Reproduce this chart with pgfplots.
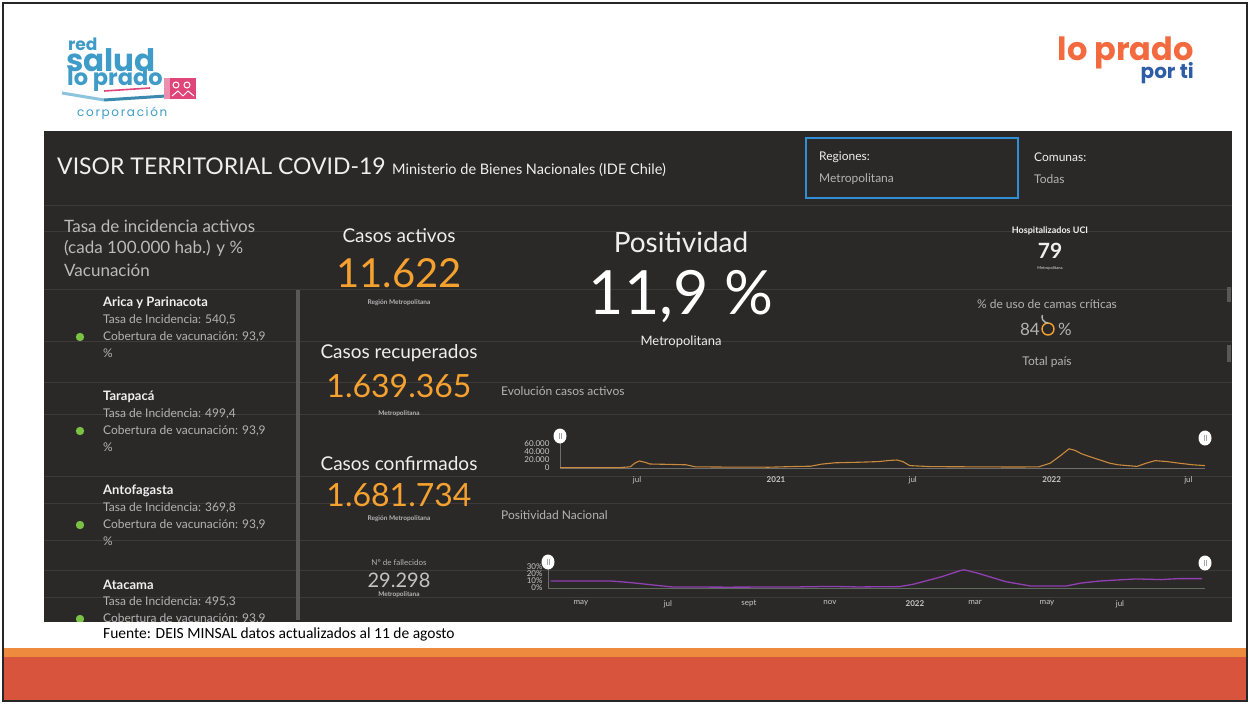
\documentclass[border=0pt]{standalone}
\usepackage{pgfplots}
\pgfplotsset{compat=1.18}
\usepackage{fontspec}
\setmainfont{Lato}
\newfontfamily\logofont{Poppins}
\newfontfamily\logols[LetterSpace=14]{Poppins}
\newfontfamily\calib{Carlito}
\newcommand\fs[1]{\fontsize{#1}{#1}\selectfont}
\definecolor{dashbg}{HTML}{2B2828}
\definecolor{faint}{HTML}{3D3A3A}
\definecolor{scrollc}{HTML}{5A5757}
\definecolor{txtw}{HTML}{EFEFEF}
\definecolor{txtg}{HTML}{B3B3B3}
\definecolor{orng}{HTML}{F5A130}
\definecolor{dotg}{HTML}{79C143}
\definecolor{boxblue}{HTML}{2E8FD6}
\definecolor{logob}{HTML}{3F9CC8}
\definecolor{logol}{HTML}{8CC4DE}
\definecolor{logot}{HTML}{3A8AAE}
\definecolor{pinkc}{HTML}{E0457A}
\definecolor{lpor}{HTML}{F26A3D}
\definecolor{ptib}{HTML}{2E5DA8}
\definecolor{bando}{HTML}{EE8A3E}
\definecolor{bandr}{HTML}{D9543C}
\definecolor{basegray}{HTML}{6E6E6E}
\definecolor{labgray}{HTML}{C8C8C8}
\definecolor{actline}{HTML}{C98A3E}
\definecolor{posline}{HTML}{9040B0}
\definecolor{posbase}{HTML}{5E6E5E}

\newcommand\entry[3]{%
  \node[anchor=west, inner sep=0, text=txtw] at (103,#3) {\fs{13}\bfseries #1};
  \node[anchor=west, inner sep=0, text=txtg] at (103,#3+17) {\fs{12}Tasa de Incidencia: #2};
  \node[anchor=west, inner sep=0, text=txtg] at (103,#3+34) {\fs{12}Cobertura de vacunación: 93,9};
  \node[anchor=west, inner sep=0, text=txtg] at (103,#3+50) {\fs{12}\%};
  \fill[dotg] (80,#3+34) circle (4.2);
}

\pgfplotstableread{
day value
80 800
159 1000
173 3000
179 12000
185 17600
193 14000
199 10000
226 9000
247 8000
259 3000
305 2200
357 2000
385 3500
412 4500
426 9600
444 13000
477 14500
501 16000
517 19000
526 20000
534 16000
543 6000
570 3500
636 2800
689 2500
714 3000
729 12000
742 30000
754 48000
762 44000
770 36000
782 28000
795 20000
808 12000
819 8000
844 4000
856 12000
868 18400
884 16000
900 12000
918 8000
934 6000
}\activos

\pgfplotstableread{
day pos
96 10
144 10
159 7.8
192 1.5
236 1.2
291 1.5
317 2.3
339 1.5
372 2
383 5.5
405 16
420 25
423 26
434 21
456 9
475 3
504 3
515 7
530 10
559 13
578 12
593 13.4
611 13.4
}\positividad

\begin{document}
\begin{tikzpicture}
\path[use as bounding box] (0pt,0pt) rectangle (1250pt,-704pt);
\begin{scope}[x=1pt,y=-1pt]
\fill[white] (0,0) rectangle (1250,704);
% bottom band
\fill[bando] (4,648) rectangle (1246,657);
\fill[bandr] (4,657) rectangle (1246,700);
% dashboard
\fill[dashbg] (44,131) rectangle (1232,622);
\foreach \yy in {205,231,289,341,382,414,476,503,540,570,597}{\draw[faint, line width=0.8pt] (44,\yy) -- (1232,\yy);}
\fill[scrollc] (296,290) rectangle (300,620);
\fill[scrollc] (1227,287) rectangle (1231,302);
\fill[scrollc] (1227,345) rectangle (1231,362);
\draw[boxblue, line width=1.6pt] (806,138) rectangle (1018,198);
% frame
\draw[black!85, line width=2.5pt] (3,3) rectangle (1247,701);

% logos
\node[anchor=base west, inner sep=0, text=logob] at (68,50) {\logofont\bfseries\fs{17}red};
\node[anchor=base west, inner sep=0, text=logob] at (66,71) {\logofont\bfseries\fs{31}salud};
\node[anchor=base west, inner sep=0, text=logob] at (67,85) {\logofont\bfseries\fs{22.5}lo prado};
\draw[line width=1.6pt, pinkc] (104,91) -- (150,88);
\draw[line width=3pt, logol] (62,93) -- (104,100);
\draw[line width=3pt, logot] (104,100) -- (166,96);
\fill[pinkc!60] (164,78) rectangle (172,99);
\fill[pinkc] (170,78) rectangle (196,99);
\draw[white, line width=1pt] (176,85) circle (3) (187,85) circle (3);
\draw[white, line width=1pt] (172,96) -- (178,91) -- (183,96) (183,96)--(188,91)--(194,96);
\node[anchor=west, inner sep=0, text=logob] at (77,113) {\logols\fs{12}corporación};
\node[anchor=base east, inner sep=0, text=lpor] at (1194,60) {\logofont\bfseries\fs{32}lo prado};
\node[anchor=base east, inner sep=0, text=ptib] at (1194,78) {\logofont\bfseries\fs{20}por ti};
\node[anchor=west, inner sep=0, text=black] at (103,634) {\calib\fs{15.5}Fuente: DEIS MINSAL datos actualizados al 11 de agosto};

% header
\node[anchor=west, inner sep=0, text=txtw] at (57,166) {\fs{23}VISOR TERRITORIAL COVID-19};
\node[anchor=west, inner sep=0, text=txtw] at (392,170) {\fs{14.5}Ministerio de Bienes Nacionales (IDE Chile)};
\node[anchor=west, inner sep=0, text=txtw] at (819,157) {\fs{12}Regiones:};
\node[anchor=west, inner sep=0, text=txtg] at (819,179) {\fs{12}Metropolitana};
\node[anchor=west, inner sep=0, text=txtw] at (1034,157) {\fs{12}Comunas:};
\node[anchor=west, inner sep=0, text=txtg] at (1034,179) {\fs{12}Todas};

% left panel
\begin{scope}
\clip (44,205) rectangle (300,621);
\node[anchor=west, inner sep=0, text=txtg!90!white] at (64,226) {\fs{17}Tasa de incidencia activos};
\node[anchor=west, inner sep=0, text=txtg!90!white] at (64,248) {\fs{17}(cada 100.000 hab.) y \%};
\node[anchor=west, inner sep=0, text=txtg!90!white] at (64,270) {\fs{17}Vacunación};
\entry{Arica y Parinacota}{540,5}{303}
\entry{Tarapacá}{499,4}{397}
\entry{Antofagasta}{369,8}{491}
\entry{Atacama}{495,3}{585}
\end{scope}

% center column
\node[inner sep=0, text=txtw] at (399,236) {\fs{19}Casos activos};
\node[inner sep=0, text=orng] at (399,273) {\fs{40}11.622};
\node[inner sep=0, text=txtg] at (399,303) {\fs{6.5}\bfseries Región Metropolitana};
\node[inner sep=0, text=txtw] at (399,353) {\fs{19}Casos recuperados};
\node[inner sep=0, text=orng] at (399,386) {\fs{32}1.639.365};
\node[inner sep=0, text=txtg] at (399,414) {\fs{6.5}\bfseries Metropolitana};
\node[inner sep=0, text=txtw] at (399,464) {\fs{19}Casos confirmados};
\node[inner sep=0, text=orng] at (399,495) {\fs{32}1.681.734};
\node[inner sep=0, text=txtg] at (399,519) {\fs{6.5}\bfseries Región Metropolitana};
\node[inner sep=0, text=txtg] at (399,563) {\fs{8}Nº de fallecidos};
\node[inner sep=0, text=txtg!80!white] at (399,580) {\fs{20}29.298};
\node[inner sep=0, text=txtg] at (399,595) {\fs{6.5}\bfseries Metropolitana};

% positividad
\node[inner sep=0, text=txtw] at (681,242) {\fs{28}Positividad};
\node[inner sep=0, text=white] at (681,297) {\fs{61}11,9 \%};
\node[inner sep=0, text=txtw] at (681,342) {\fs{13}Metropolitana};
\node[anchor=west, inner sep=0, text=txtg] at (501,391) {\fs{12}Evolución casos activos};
\node[anchor=west, inner sep=0, text=txtg] at (501,515) {\fs{12}Positividad Nacional};

% right indicators
\node[inner sep=0, text=txtw] at (1050,231) {\fs{9}\bfseries Hospitalizados UCI};
\node[inner sep=0, text=txtw] at (1050,251) {\fs{21}\bfseries 79};
\node[inner sep=0, text=txtg] at (1050,268) {\fs{4}\bfseries Metropolitana};
\node[inner sep=0, text=txtg] at (1047,304) {\fs{12}\% de uso de camas críticas};
\node[anchor=east, inner sep=0, text=txtg] at (1040,329) {\fs{17}84};
\draw[orng, line width=1.4pt] (1048,329) circle (6);
\draw[txtg, line width=1.4pt] (1048,323) arc (90:200:6);
\node[anchor=west, inner sep=0, text=txtg] at (1058,329) {\fs{17}\%};
\node[inner sep=0, text=txtg] at (1047,362) {\fs{12}Total país};

% handle stems
\draw[basegray, line width=0.7pt] (560,443) -- (560,468);
\draw[basegray, line width=0.7pt] (548,569) -- (548,588);
\end{scope}

\begin{axis}[
 at={(560pt,-468pt)}, anchor=south west, scale only axis,
 width=645pt, height=26pt,
 xmin=80, xmax=934, ymin=0, ymax=65000,
 axis x line=bottom, axis y line=left,
 x axis line style={draw=basegray, line width=0.9pt, -},
 y axis line style={draw=none, -},
 xtick={182,366,547,731,912},
 xticklabels={jul,\textbf{2021},jul,\textbf{2022},jul},
 ytick={0,20000,40000,60000},
 yticklabels={0,20.000,40.000,60.000},
 scaled y ticks=false,
 major tick length=0pt,
 tick label style={font=\fs{8}, text=labgray},
 xticklabel style={yshift=-5pt},
 yticklabel style={xshift=-7pt},
 clip=false,
 /pgf/number format/assume math mode=true,
]
\addplot[line width=1.1pt, color=actline] table[x=day, y=value] {\activos};
\end{axis}

\begin{axis}[
 at={(548pt,-588pt)}, anchor=south west, scale only axis,
 width=657pt, height=23.1pt,
 xmin=94, xmax=613.3, ymin=0, ymax=33,
 axis x line=bottom, axis y line=left,
 x axis line style={draw=posbase, line width=0.9pt, -},
 y axis line style={draw=none, -},
 xtick={120,188.8,252.8,316.8,384,431.5,488.4,546.1},
 xticklabels={may,jul,sept,nov,\textbf{2022},mar,may,jul},
 ytick={0,10,20,30},
 yticklabels={0\%,10\%,20\%,30\%},
 major tick length=0pt,
 tick label style={font=\fs{8}, text=labgray},
 xticklabel style={yshift=-9pt},
 yticklabel style={xshift=-2pt},
 clip=false,
 /pgf/number format/assume math mode=true,
]
\addplot[line width=1.3pt, color=posline] table[x=day, y=pos] {\positividad};
\end{axis}

\begin{scope}[x=1pt,y=-1pt]
\foreach \hx/\hy in {560/436, 1205/438, 548/562, 1205/563}{
  \fill[white] (\hx,\hy) ellipse (6.5 and 7.5);
  \draw[gray!70, line width=0.6pt] (\hx-1,\hy-3) -- (\hx-1,\hy+3) (\hx+1,\hy-3) -- (\hx+1,\hy+3);
}
\end{scope}
\end{tikzpicture}
\end{document}
